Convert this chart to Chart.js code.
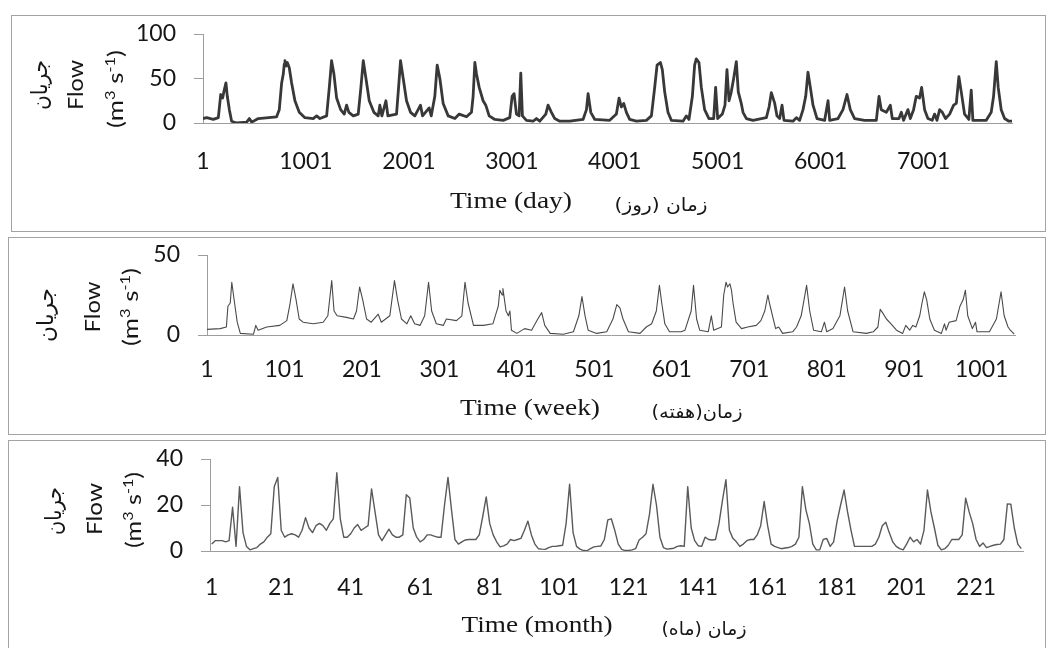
<!DOCTYPE html>
<html>
<head>
<meta charset="utf-8">
<script src="https://cdn.jsdelivr.net/npm/chart.js@4.4.1/dist/chart.umd.min.js"></script>
<style>
  html, body { margin: 0; padding: 0; background: #fff; }
  body { width: 1046px; height: 648px; position: relative; overflow: hidden; }
  .box { position: absolute; border: 1px solid #a3a3a3; box-sizing: border-box; }
  canvas { position: absolute; }
  .warm { position: absolute; left: -500px; top: 0; font-size: 20px; }
</style>
</head>
<body>
<span class="warm" style="font-family:Lato">Flow 0123456789</span>
<span class="warm" style="font-family:'Liberation Serif'">Time (day)</span>
<span class="warm" style="font-family:'DejaVu Sans'">زمان</span>
<div class="box" style="left:11px;top:15px;width:1035px;height:217px"></div>
<div class="box" style="left:8px;top:237px;width:1038px;height:198px"></div>
<div class="box" style="left:8px;top:440px;width:1038px;height:230px"></div>
<canvas id="dayChart" width="1033" height="215" style="left:12px;top:16px"></canvas>
<canvas id="weekChart" width="1035" height="196" style="left:9px;top:238px"></canvas>
<canvas id="monthChart" width="1035" height="207" style="left:9px;top:441px"></canvas>
<script>
// --- data ---
// daily flow (m3/s), sampled at the turning points of the curve
const dayIndex = [
  1, 37, 101, 150, 173, 192, 205, 224, 237, 257,
  279, 328, 425, 451, 474, 538, 716, 742, 765, 781,
  790, 797, 808, 820, 839, 862, 894, 936, 991, 1072, 1105, 1137,
  1202, 1228, 1250, 1273, 1299, 1338, 1373, 1396, 1418, 1461,
  1509, 1535, 1558, 1584, 1616, 1661, 1703, 1719, 1739, 1778,
  1797, 1881, 1901, 1920, 1946, 1978, 2017, 2059, 2114, 2134,
  2198, 2218, 2253, 2276, 2302, 2334, 2383, 2448, 2490, 2561,
  2609, 2625, 2642, 2658, 2684, 2722, 2748, 2781, 2836, 2917,
  2981, 3004, 3023, 3046, 3072, 3088, 3104, 3143, 3208, 3240,
  3273, 3331, 3353, 3386, 3418, 3467, 3564, 3693, 3726, 3742,
  3768, 3807, 3952, 4017, 4043, 4065, 4088, 4114, 4146, 4211,
  4308, 4357, 4389, 4412, 4444, 4463, 4486, 4518, 4551, 4664,
  4696, 4722, 4755, 4777, 4793, 4819, 4842, 4874, 4916, 4962,
  4981, 5001, 5046, 5072, 5091, 5111, 5133, 5156, 5182, 5201,
  5230, 5247, 5280, 5344, 5425, 5474, 5500, 5522, 5539, 5555,
  5577, 5603, 5626, 5645, 5733, 5765, 5797, 5830, 5856, 5878,
  5901, 5927, 5966, 6040, 6073, 6089, 6170, 6218, 6257, 6289,
  6331, 6428, 6542, 6568, 6590, 6639, 6678, 6697, 6762, 6785,
  6807, 6849, 6872, 6904, 6930, 6962, 6982, 7011, 7043, 7085,
  7108, 7131, 7157, 7183, 7215, 7254, 7293, 7319, 7344, 7367,
  7399, 7441, 7464, 7480, 7610, 7658, 7681, 7707, 7726, 7755,
  7788, 7830, 7860
];
const dayFlow = [
  5, 6, 4, 6, 32, 28, 36, 45, 30, 15,
  2, 0, 1, 5, 1, 5, 7, 15, 45, 55,
  66, 70, 64, 68, 62, 45, 25, 12, 6, 5, 8, 5,
  8, 40, 70, 55, 28, 15, 10, 20, 12, 8,
  10, 40, 70, 50, 25, 12, 8, 20, 8, 25,
  8, 10, 40, 70, 50, 25, 12, 8, 20, 8,
  17, 8, 30, 65, 50, 22, 8, 5, 10, 7,
  12, 30, 68, 55, 40, 25, 20, 8, 4, 3,
  6, 30, 33, 10, 8, 56, 8, 3, 2, 5,
  2, 10, 20, 12, 5, 2, 2, 4, 15, 33,
  12, 4, 3, 10, 28, 18, 22, 12, 4, 2,
  3, 8, 40, 65, 68, 60, 35, 12, 3, 2,
  8, 4, 30, 65, 72, 68, 40, 15, 5, 5,
  40, 5, 10, 20, 60, 25, 35, 50, 69, 35,
  22, 12, 5, 3, 5, 6, 18, 34, 28, 22,
  8, 5, 20, 3, 2, 6, 3, 15, 30, 57,
  40, 20, 5, 3, 25, 3, 5, 15, 32, 15,
  5, 3, 3, 30, 15, 12, 20, 5, 5, 12,
  3, 15, 5, 15, 30, 28, 40, 15, 5, 3,
  10, 3, 15, 12, 5, 10, 20, 22, 52, 35,
  10, 4, 37, 3, 3, 12, 30, 69, 40, 15,
  5, 2, 2
];

// weekly flow
const weekIndex = [
  1, 18, 26, 28, 31, 33, 36, 40, 44, 61,
  64, 67, 78, 95, 104, 108, 112, 116, 120, 125,
  138, 151, 157, 162, 165, 169, 181, 190, 194, 198,
  202, 207, 213, 222, 226, 237, 243, 247, 252, 259,
  264, 269, 276, 282, 287, 291, 297, 306, 310, 323,
  330, 334, 338, 345, 358, 370, 377, 379, 382, 383,
  387, 390, 392, 394, 401, 411, 420, 428, 433, 437,
  444, 461, 474, 481, 485, 489, 493, 504, 517, 525,
  530, 534, 538, 545, 560, 568, 575, 581, 585, 588,
  592, 598, 613, 618, 626, 629, 633, 637, 648, 652,
  655, 665, 668, 671, 673, 676, 678, 680, 684, 691,
  699, 710, 716, 721, 725, 727, 731, 735, 739, 744,
  757, 762, 768, 775, 779, 784, 794, 798, 801, 809,
  818, 824, 828, 835, 852, 861, 867, 870, 873, 878,
  884, 891, 899, 903, 908, 912, 916, 921, 924, 927,
  930, 934, 940, 949, 953, 955, 959, 968, 973, 977,
  980, 983, 989, 993, 995, 1011, 1020, 1026, 1030, 1035,
  1038, 1043
];
const weekFlow = [
  3.5, 4, 5, 18, 20, 33, 22, 8, 1, 0.5,
  6, 3, 5, 6, 9, 19, 32, 22, 10, 8,
  7, 8, 12, 34, 15, 12, 11, 10, 15, 30,
  22, 10, 8, 13, 8, 12, 34, 22, 10, 7,
  12, 7, 6, 12, 33, 15, 7, 6, 10, 9,
  12, 33, 20, 6, 6, 7, 18, 28, 25, 29,
  15, 12, 15, 3, 1, 4, 3, 10, 14, 6,
  1, 0.5, 2, 12, 24, 12, 3, 1, 2, 10,
  19, 17, 10, 2, 1, 5, 7, 15, 31, 20,
  7, 2, 2, 3, 15, 31, 10, 3, 2, 12,
  3, 5, 25, 33, 30, 32, 28, 20, 8, 4,
  5, 6, 9, 15, 25, 20, 12, 4, 5, 1,
  2, 5, 12, 31, 15, 3, 2, 8, 2, 4,
  12, 30, 15, 2, 1, 2, 5, 16, 14, 10,
  7, 3, 1, 6, 3, 6, 5, 12, 20, 27,
  22, 10, 3, 1, 7, 3, 8, 9, 18, 22,
  28, 12, 4, 8, 2, 2, 10, 27, 12, 5,
  3, 0.5
];

// monthly flow, one value per month starting at month 1
const monthFlow = [
  3, 4.5, 4.5, 4.5, 4, 4.5, 19, 2, 28, 8,
  2, 0.5, 1, 1.5, 3, 4, 6, 7.5, 28, 32,
  9, 6, 7, 7.5, 7, 6, 9, 14.5, 10, 8,
  11, 12, 11, 9, 12, 14, 34, 14, 6, 6,
  7.5, 10, 11.5, 9, 10, 11, 27, 17, 7, 4.5,
  7, 9.5, 7, 6, 6, 7, 24.5, 23, 10, 6,
  4, 5, 7, 7, 6.5, 6, 6, 20, 32, 18,
  5, 3, 4, 4.8, 5, 5, 5, 7, 15, 23.5,
  12, 7, 4, 1.8, 2.2, 3, 5, 4.5, 5, 5.5,
  9, 13, 7, 3, 1, 0.8, 0.7, 1.5, 2, 2,
  2.3, 2.5, 12, 29, 8, 2, 0.8, 0.2, 0.1, 1,
  1.8, 2, 2.2, 5, 13.5, 14, 9, 3, 0.7, 0.2,
  0.2, 0.5, 1, 4.8, 6, 7.5, 16, 29, 20, 6,
  1.5, 0.8, 1, 1.2, 2, 2.3, 2, 28, 10, 4.5,
  2.3, 2, 6, 5, 4.8, 5, 12, 22, 31, 9,
  5.5, 4, 2, 3, 4.5, 5, 5, 7, 11, 21.5,
  11, 3, 2, 1.5, 1, 1.3, 1.5, 2, 3, 6,
  28, 18, 12, 3, 0.5, 0.5, 5, 5.5, 2, 4,
  13, 20, 26.5, 17, 9, 2, 2, 2, 2, 2,
  2, 3, 6, 11, 12.5, 8, 4, 2, 1, 0.5,
  3, 6, 4, 5, 3, 9, 26.5, 17, 10, 2.5,
  0.5, 1, 2.5, 5, 5, 5, 7, 23, 17, 12,
  5, 2, 3.5, 1.5, 2, 2.5, 2.8, 3, 5, 20.5,
  20.3, 10, 3, 1
];

// axis tick labels
const dayTicks = [1, 1001, 2001, 3001, 4001, 5001, 6001, 7001];
const weekTicks = [1, 101, 201, 301, 401, 501, 601, 701, 801, 901, 1001];
const monthTicks = [1, 21, 41, 61, 81, 101, 121, 141, 161, 181, 201, 221];
const dayFlowTicks = [0, 50, 100];
const weekFlowTicks = [0, 50];
const monthFlowTicks = [0, 20, 40];

// --- styles ---
const TEXT = '#161616';
const AXIS = '#9d9d9d';
const LATO = 'Lato, Carlito, "Open Sans", sans-serif';
const SERIF = '"Liberation Serif", "Times New Roman", serif';
const FA = '"DejaVu Sans", sans-serif';
const TICK_SIZE = 23;
const UNIT = ['(m', { t: '3', sup: true }, ' s', { t: '-1', sup: true }, ')'];

// draws the axis captions (Persian + English), each squeezed to the width seen in the figure
function captionPlugin(origin, items) {
  return {
    id: 'captions',
    afterDraw(chart) {
      const ctx = chart.ctx;
      items.forEach(it => {
        ctx.save();
        ctx.translate(it.x - origin[0], it.y - origin[1]);
        if (it.vertical) ctx.rotate(-Math.PI / 2);
        ctx.fillStyle = TEXT;
        ctx.textBaseline = 'alphabetic';
        ctx.direction = it.rtl ? 'rtl' : 'ltr';
        const parts = it.parts.map(p => (typeof p === 'string' ? { t: p, sup: false } : { t: p.t, sup: p.sup }));
        const fontOf = p => (p.sup ? Math.round(it.size * 0.62) : it.size) + 'px ' + it.family;
        let w = 0;
        parts.forEach(p => { ctx.font = fontOf(p); p.w = ctx.measureText(p.t).width; w += p.w; });
        ctx.scale(it.width / w, 1);
        if (it.rtl) {
          ctx.textAlign = 'center';
          ctx.font = fontOf(parts[0]);
          ctx.fillText(parts[0].t, 0, 0);
        } else {
          ctx.textAlign = 'left';
          let x = -w / 2;
          parts.forEach(p => {
            ctx.font = fontOf(p);
            ctx.fillText(p.t, x, p.sup ? -it.size * 0.36 : 0);
            x += p.w;
          });
        }
        ctx.restore();
      });
    }
  };
}

function makePanel(id, points, c) {
  return new Chart(document.getElementById(id), {
    type: 'line',
    data: {
      datasets: [{
        data: points,
        borderColor: c.color,
        borderWidth: c.lineWidth,
        pointRadius: 0,
        tension: 0,
        fill: false,
        borderJoinStyle: 'round'
      }]
    },
    options: {
      responsive: false,
      animation: false,
      events: [],
      layout: { padding: { left: 0, top: c.padTop, right: c.padRight, bottom: 0 } },
      plugins: { legend: { display: false }, tooltip: { enabled: false } },
      scales: {
        x: {
          type: 'linear',
          min: c.xMin,
          max: c.xMax,
          afterBuildTicks: s => { s.ticks = c.xTicks.map(v => ({ value: v })); },
          afterFit: s => { s.height = c.xHeight; },
          grid: { display: false, drawTicks: false },
          border: { color: AXIS, width: 1 },
          ticks: {
            autoSkip: false, maxRotation: 0, padding: c.xPad, color: TEXT,
            font: { family: LATO, size: TICK_SIZE },
            callback: v => String(v)
          }
        },
        y: {
          min: 0,
          max: c.yTicks[c.yTicks.length - 1],
          afterBuildTicks: s => { s.ticks = c.yTicks.map(v => ({ value: v })); },
          // fixed width; drop the label padding so the plot top sits where the figure has it
          afterFit: s => { s.width = c.yWidth; s.paddingTop = 0; s.paddingBottom = 0; },
          grid: { drawOnChartArea: false, drawTicks: true, tickLength: 9, color: AXIS },
          border: { color: AXIS, width: 1 },
          ticks: { padding: 18, color: TEXT, font: { family: LATO, size: TICK_SIZE }, callback: v => String(v) }
        }
      }
    },
    plugins: [captionPlugin(c.origin, c.captions)]
  });
}

function drawAll() {
  makePanel('dayChart', dayIndex.map((d, i) => ({ x: d, y: dayFlow[i] })), {
    color: '#383838', lineWidth: 2.8,
    origin: [12, 16], padTop: 18, padRight: 33, yWidth: 191, xHeight: 108, xPad: 25,
    xMin: 1, xMax: 7860, xTicks: dayTicks, yTicks: dayFlowTicks,
    captions: [
      { parts: ['جريان'], family: FA, size: 22, x: 47, y: 85, width: 50, vertical: true, rtl: true },
      { parts: ['Flow'], family: LATO, size: 22, x: 83, y: 85, width: 50, vertical: true },
      { parts: UNIT, family: LATO, size: 22, x: 123, y: 89, width: 78, vertical: true },
      { parts: ['Time (day)'], family: SERIF, size: 23, x: 511, y: 208, width: 122 },
      { parts: ['زمان (روز)'], family: FA, size: 18, x: 661, y: 211, width: 93, rtl: true }
    ]
  });

  makePanel('weekChart', weekIndex.map((w, i) => ({ x: w, y: weekFlow[i] })), {
    color: '#4a4a4a', lineWidth: 1.1,
    origin: [9, 238], padTop: 17, padRight: 29, yWidth: 198, xHeight: 99, xPad: 21,
    xMin: 1, xMax: 1044, xTicks: weekTicks, yTicks: weekFlowTicks,
    captions: [
      { parts: ['جريان'], family: FA, size: 22, x: 53, y: 315, width: 54, vertical: true, rtl: true },
      { parts: ['Flow'], family: LATO, size: 22, x: 100, y: 307, width: 51, vertical: true },
      { parts: UNIT, family: LATO, size: 22, x: 138, y: 307, width: 78, vertical: true },
      { parts: ['Time (week)'], family: SERIF, size: 23, x: 530, y: 415, width: 140 },
      { parts: ['زمان(هفته)'], family: FA, size: 18, x: 697, y: 418, width: 91, rtl: true }
    ]
  });

  makePanel('monthChart', monthFlow.map((v, i) => ({ x: i + 1, y: v })), {
    color: '#5a5a5a', lineWidth: 1.4,
    origin: [9, 441], padTop: 18, padRight: 21, yWidth: 201, xHeight: 97, xPad: 23,
    xMin: 0.5, xMax: 234.5, xTicks: monthTicks, yTicks: monthFlowTicks,
    captions: [
      { parts: ['جريان'], family: FA, size: 22, x: 61, y: 511, width: 48, vertical: true, rtl: true },
      { parts: ['Flow'], family: LATO, size: 22, x: 102, y: 509, width: 52, vertical: true },
      { parts: UNIT, family: LATO, size: 22, x: 141, y: 510, width: 76, vertical: true },
      { parts: ['Time (month)'], family: SERIF, size: 23, x: 537, y: 632, width: 151 },
      { parts: ['زمان (ماه)'], family: FA, size: 18, x: 704, y: 635, width: 85, rtl: true }
    ]
  });
}

// make sure the installed fonts are ready before the canvases are painted
Promise.all([
  document.fonts.load('22px Lato'),
  document.fonts.load('23px "Liberation Serif"'),
  document.fonts.load('16px "DejaVu Sans"', 'زمان')
]).catch(() => {}).then(drawAll);
</script>
</body>
</html>
